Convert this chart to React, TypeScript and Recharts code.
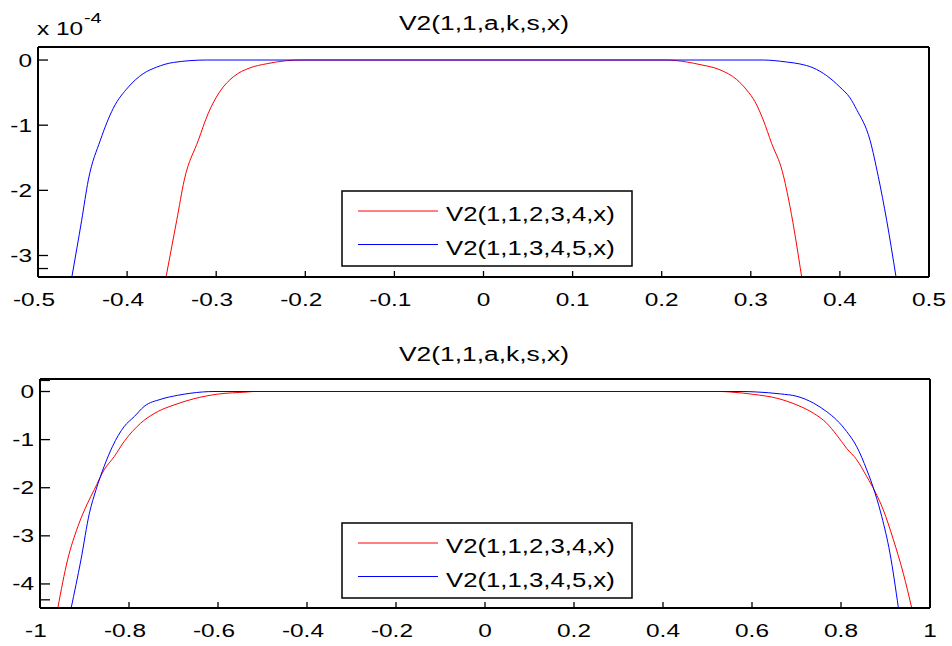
import React from 'react'
import { LineChart, Line, XAxis, YAxis } from 'recharts'

// upper panel, values in units of 1e-4
const topRedX = [-0.3563, -0.3443, -0.3358, -0.32, -0.309, -0.2957, -0.281, -0.262, -0.2433, -0.221, -0.206,
    0.2056, 0.228, 0.243, 0.2654, 0.2842, 0.2954, 0.3047, 0.314, 0.3234, 0.3354, 0.344, 0.3571]
const topRedY = [-3.33, -2.46, -1.84, -1.23, -0.82, -0.48, -0.26, -0.12, -0.057, -0.01, 0,
    0, -0.03, -0.07, -0.15, -0.3, -0.46, -0.64, -0.92, -1.28, -1.71, -2.25, -3.33]
const topBlueX = [-0.462, -0.451, -0.4435, -0.43, -0.4155, -0.3986, -0.382, -0.367, -0.348, -0.311,
    0.314, 0.34, 0.355, 0.37, 0.3852, 0.4, 0.4113, 0.4188, 0.4338, 0.4431, 0.4525, 0.463]
const topBlueY = [-3.33, -2.46, -1.84, -1.23, -0.74, -0.415, -0.21, -0.11, -0.037, 0,
    0, -0.03, -0.06, -0.12, -0.24, -0.415, -0.58, -0.76, -1.23, -1.79, -2.46, -3.33]

// lower panel
const botRedX = [-0.96, -0.938, -0.915, -0.893, -0.878, -0.856, -0.833, -0.811, -0.774, -0.736, -0.699, -0.654, -0.601, -0.534, -0.52,
    0.53, 0.551, 0.604, 0.656, 0.701, 0.738, 0.768, 0.79, 0.8126, 0.8355, 0.858, 0.8765, 0.895, 0.9177, 0.94, 0.959]
const botRedY = [-4.5, -3.5, -2.81, -2.32, -2.04, -1.63, -1.35, -1.04, -0.66, -0.42, -0.28, -0.15, -0.055, -0.01, 0,
    0, -0.01, -0.06, -0.14, -0.28, -0.45, -0.66, -0.9, -1.18, -1.42, -1.77, -2.08, -2.46, -3.08, -3.78, -4.5]
const botBlueX = [-0.93, -0.908, -0.889, -0.874, -0.856, -0.837, -0.811, -0.788, -0.766, -0.728, -0.691, -0.661, -0.609,
    0.58, 0.611, 0.664, 0.701, 0.738, 0.768, 0.79, 0.8126, 0.835, 0.858, 0.8765, 0.8916, 0.91, 0.929]
const botBlueY = [-4.5, -3.5, -2.53, -2.04, -1.56, -1.14, -0.73, -0.52, -0.31, -0.16, -0.08, -0.035, 0,
    0, -0.01, -0.05, -0.1, -0.24, -0.42, -0.59, -0.83, -1.14, -1.63, -2.11, -2.6, -3.36, -4.5]

const topXTicks = [-0.5, -0.4, -0.3, -0.2, -0.1, 0, 0.1, 0.2, 0.3, 0.4, 0.5]
const topYTicks = [-3.2, -3, -2, -1, 0, 0.2]
const botXTicks = [-1, -0.8, -0.6, -0.4, -0.2, 0, 0.2, 0.4, 0.6, 0.8, 1]
const botYTicks = [-4.33, -4, -3, -2, -1, 0, 0.23]
const topXDomain = [-0.5, 0.5]
const topYDomain = [-3.33, 0.2]
const botXDomain = [-1, 1]
const botYDomain = [-4.5, 0.26]

const titleText = 'V2(1,1,a,k,s,x)'
const seriesNames = ['V2(1,1,2,3,4,x)', 'V2(1,1,3,4,5,x)']
const seriesColors = ['#ff0000', '#0000ff']

const zip = (xs: number[], ys: number[]) => xs.map((x, i) => ({ x, y: ys[i] }))

const FONT = '"Liberation Sans", Arial, Helvetica, sans-serif'
const SX = 1.32
const TICK_FS = 18.5
const XT = 6 // x tick length (inward)
const YT = 10 // y tick length (inward)

const charW: Record<string, number> = { '-': 0.333, '.': 0.278 }
const absWidth = (s: string) =>
    s.replace('-', '').split('').reduce((a, c) => a + (charW[c] ?? 0.556), 0) * TICK_FS * SX

const SText = ({ x, y, size, anchor = 'start', children }: any) => (
    <text
        transform={`translate(${x},${y}) scale(${SX},1)`}
        textAnchor={anchor}
        fontSize={size}
        fontFamily={FONT}
        fill="#000"
    >
        {children}
    </text>
)

// negative tickSize puts recharts' own tick lines inside the box, so labels are shifted back out
const BottomLabel = ({ x, y, payload }: any) => {
    const s = String(payload.value)
    return <SText x={x + absWidth(s) / 2} y={y + XT + 29} size={TICK_FS} anchor="end">{s}</SText>
}
const LeftLabel = ({ x, y, payload }: any) =>
    Number.isInteger(payload.value)
        ? <SText x={x - YT - 6} y={y + 6.5} size={TICK_FS} anchor="end">{String(payload.value)}</SText>
        : <g />

const axisLine = { stroke: '#000', strokeWidth: 2 }
const tickLine = { stroke: '#000', strokeWidth: 1.3 }

// axes are 1px thick (recharts skips zero-size axes), margins take the rest
const Panel = ({ red, blue, xDomain, yDomain, xTicks, yTicks, margin, height }: any) => (
    <LineChart width={952} height={height} margin={margin}>
        <XAxis xAxisId="b" dataKey="x" type="number" domain={xDomain} ticks={xTicks} allowDataOverflow
            height={1} interval={0} tickLine={tickLine} tickSize={-XT} tickMargin={0} axisLine={axisLine} tick={<BottomLabel />} />
        <XAxis xAxisId="t" orientation="top" type="number" domain={xDomain} ticks={xTicks} allowDataOverflow
            height={1} interval={0} tickLine={tickLine} tickSize={-XT} tickMargin={0} axisLine={axisLine} tick={false} />
        <YAxis yAxisId="l" dataKey="y" type="number" domain={yDomain} ticks={yTicks} allowDataOverflow
            width={1} interval={0} tickLine={tickLine} tickSize={-YT} tickMargin={0} axisLine={axisLine} tick={<LeftLabel />} />
        <YAxis yAxisId="r" orientation="right" type="number" domain={yDomain} ticks={yTicks} allowDataOverflow
            width={1} interval={0} tickLine={tickLine} tickSize={-YT} tickMargin={0} axisLine={axisLine} tick={false} />
        <Line xAxisId="b" yAxisId="l" data={red} dataKey="y" type="monotone" stroke={seriesColors[0]}
            strokeWidth={1} dot={false} isAnimationActive={false} />
        <Line xAxisId="b" yAxisId="l" data={blue} dataKey="y" type="monotone" stroke={seriesColors[1]}
            strokeWidth={1} dot={false} isAnimationActive={false} />
    </LineChart>
)

const LegendBox = ({ x, y }: any) => (
    <g>
        <rect x={x} y={y} width={290} height={75} fill="#fff" stroke="#000" strokeWidth={1.5} />
        {seriesNames.map((name, i) => (
            <g key={name}>
                <line x1={x + 16} x2={x + 96} y1={y + 20 + i * 33.5} y2={y + 20 + i * 33.5} stroke={seriesColors[i]} />
                <SText x={x + 104} y={y + 30 + i * 33.5} size={19.5}>{name}</SText>
            </g>
        ))}
    </g>
)

export default function App() {
    return (
        <div style={{ position: 'absolute', left: 0, top: 0, width: 952, height: 646, background: '#fff' }}>
            <div style={{ position: 'absolute', left: 0, top: 0 }}>
                <Panel red={zip(topRedX, topRedY)} blue={zip(topBlueX, topBlueY)}
                    xDomain={topXDomain} yDomain={topYDomain} xTicks={topXTicks} yTicks={topYTicks}
                    height={320} margin={{ top: 46, right: 22, bottom: 42, left: 37 }} />
            </div>
            <div style={{ position: 'absolute', left: 0, top: 330 }}>
                <Panel red={zip(botRedX, botRedY)} blue={zip(botBlueX, botBlueY)}
                    xDomain={botXDomain} yDomain={botYDomain} xTicks={botXTicks} yTicks={botYTicks}
                    height={316} margin={{ top: 48, right: 21, bottom: 37, left: 39 }} />
            </div>
            <svg width={952} height={646} style={{ position: 'absolute', left: 0, top: 0, pointerEvents: 'none' }}>
                <SText x={484} y={30} size={20} anchor="middle">{titleText}</SText>
                <SText x={484} y={361} size={20} anchor="middle">{titleText}</SText>
                <SText x={37} y={35} size={18.5}>x 10</SText>
                <SText x={84} y={23} size={15}>-4</SText>
                <LegendBox x={342} y={191} />
                <LegendBox x={342} y={523} />
            </svg>
        </div>
    )
}
